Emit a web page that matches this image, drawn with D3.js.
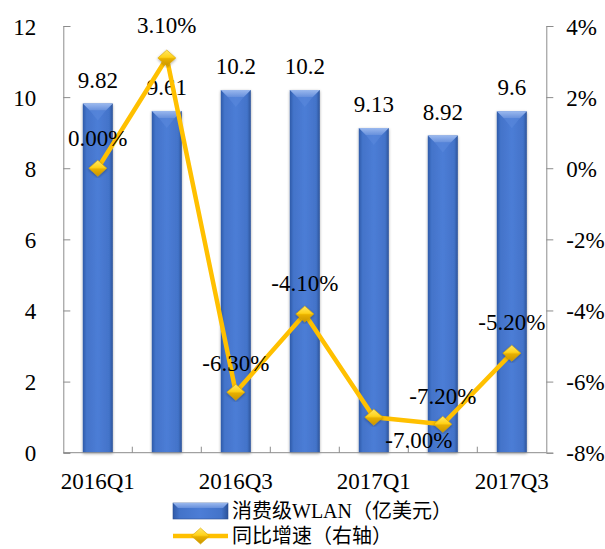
<!DOCTYPE html>
<html>
<head>
<meta charset="utf-8">
<script src="https://cdn.jsdelivr.net/npm/d3@7/dist/d3.min.js"></script>
<style>
  html, body { margin: 0; padding: 0; background: #fff; }
  svg { display: block; }
</style>
</head>
<body>
<svg id="chart" width="605" height="549"></svg>
<script>
// Quarterly consumer WLAN revenue (100M USD) and YoY growth (%)
const categories = ["2016Q1", "2016Q2", "2016Q3", "2016Q4", "2017Q1", "2017Q2", "2017Q3"];
const revenue = [9.82, 9.61, 10.2, 10.2, 9.13, 8.92, 9.6];
const growth = [0.00, 3.10, -6.30, -4.10, -7.00, -7.20, -5.20];
const leftTicks = [0, 2, 4, 6, 8, 10, 12];
const rightTicks = [-8, -6, -4, -2, 0, 2, 4];
const shownCategoryLabels = ["2016Q1", "2016Q3", "2017Q1", "2017Q3"];
const legendLabels = ["消费级WLAN（亿美元）", "同比增速（右轴）"];

// label nudges for the growth labels, relative to each marker
const growthLabelOffsets = [[0, -30], [0, -33], [0, -29], [0, -31], [45, 23], [0, -28], [0, -31]];

const FONT = "'Liberation Serif', 'Times New Roman', 'Noto Sans CJK SC', serif";
const svg = d3.select("#chart").style("font-family", FONT);
const plot = { left: 63.3, right: 546.3, top: 26, bottom: 452.7 };
const axisColor = "#8c8c8c";
const fontSize = 23;

const x = d3.scaleBand()
  .domain(categories)
  .range([plot.left, plot.right])
  .paddingInner(0.565)
  .paddingOuter(0.2825);
const step = x.step();

const yL = d3.scaleLinear().domain([0, 12]).range([plot.bottom, plot.top]);
const yR = d3.scaleLinear().domain([-8, 4]).range([plot.bottom, plot.top]);

// gradients
const defs = svg.append("defs");
const barGrad = defs.append("linearGradient").attr("id", "barGrad")
  .attr("x1", "0%").attr("x2", "100%").attr("y1", "0%").attr("y2", "0%");
[["0%", "#2f5aa8"], ["12%", "#4373c9"], ["50%", "#4c7dd6"], ["88%", "#4373c9"], ["100%", "#2b5299"]]
  .forEach(([o, c]) => barGrad.append("stop").attr("offset", o).attr("stop-color", c));

const bevelGrad = defs.append("linearGradient").attr("id", "bevelGrad")
  .attr("x1", "0%").attr("x2", "0%").attr("y1", "0%").attr("y2", "100%");
[["0%", "#9ab8ee"], ["100%", "#6790dc"]]
  .forEach(([o, c]) => bevelGrad.append("stop").attr("offset", o).attr("stop-color", c));

const diaGrad = defs.append("linearGradient").attr("id", "diaGrad")
  .attr("x1", "0%").attr("x2", "0%").attr("y1", "0%").attr("y2", "100%");
[["0%", "#ffe866"], ["45%", "#ffd21a"], ["55%", "#e8b000"], ["100%", "#c99400"]]
  .forEach(([o, c]) => diaGrad.append("stop").attr("offset", o).attr("stop-color", c));

const shadow = defs.append("filter").attr("id", "shadow")
  .attr("x", "-30%").attr("y", "-10%").attr("width", "160%").attr("height", "120%");
shadow.append("feGaussianBlur").attr("in", "SourceAlpha").attr("stdDeviation", 1.5).attr("result", "b");
shadow.append("feOffset").attr("in", "b").attr("dx", 0).attr("dy", 1).attr("result", "o");
shadow.append("feComponentTransfer").attr("in", "o").attr("result", "s")
  .append("feFuncA").attr("type", "linear").attr("slope", 0.35);
const merge = shadow.append("feMerge");
merge.append("feMergeNode").attr("in", "s");
merge.append("feMergeNode").attr("in", "SourceGraphic");

// bars
const barW = x.bandwidth();
const bars = svg.append("g").selectAll("g.bar").data(revenue).join("g").attr("class", "bar");
bars.append("rect")
  .attr("x", (d, i) => x(categories[i]))
  .attr("y", d => yL(d))
  .attr("width", barW)
  .attr("height", d => yL(0) - yL(d))
  .attr("fill", "url(#barGrad)")
  .attr("filter", "url(#shadow)");
// top bevel
const bev = 7;
bars.append("path")
  .attr("d", (d, i) => {
    const x0 = x(categories[i]), x1 = x0 + barW, y0 = yL(d);
    return `M${x0},${y0}L${x1},${y0}L${x1 - bev},${y0 + bev}L${x0 + bev},${y0 + bev}Z`;
  })
  .attr("fill", "url(#bevelGrad)");
bars.append("path")
  .attr("d", (d, i) => {
    const x0 = x(categories[i]), x1 = x0 + barW, y0 = yL(d);
    return `M${x0 + bev},${y0 + bev}L${x1 - bev},${y0 + bev}L${(x0 + x1) / 2},${y0 + bev + 10}Z`;
  })
  .attr("fill", "#5a88dc").attr("opacity", 0.6);

// bar value labels
svg.append("g").selectAll("text").data(revenue).join("text")
  .attr("x", (d, i) => x(categories[i]) + barW / 2)
  .attr("y", d => yL(d) - 24)
  .attr("dy", "0.35em")
  .attr("text-anchor", "middle")
  .attr("font-size", fontSize)
  .style("font-family", FONT)
  .text(d => String(d));

function styleAxis(g) {
  g.attr("font-family", FONT);
  g.select(".domain").attr("stroke", axisColor);
  g.selectAll(".tick line").attr("stroke", axisColor);
  g.selectAll(".tick text").attr("font-size", fontSize).style("font-family", FONT).attr("fill", "#000");
}

// left axis (inside ticks)
const axL = svg.append("g").attr("transform", `translate(${plot.left},0)`)
  .call(d3.axisLeft(yL).tickValues(leftTicks).tickSize(-7).tickPadding(27).tickFormat(d => String(d)));
styleAxis(axL);
axL.selectAll(".tick text").attr("dy", "0.35em");

// right axis
const axR = svg.append("g").attr("transform", `translate(${plot.right},0)`)
  .call(d3.axisRight(yR).tickValues(rightTicks).tickSize(7).tickPadding(13).tickFormat(d => d + "%"));
styleAxis(axR);
axR.selectAll(".tick text").attr("dy", "0.35em");

// bottom axis: category boundaries get the tick marks, every other label shown
const axB = svg.append("g").attr("transform", `translate(0,${plot.bottom})`)
  .call(d3.axisBottom(x).tickSize(0).tickPadding(20).tickFormat(d => shownCategoryLabels.includes(d) ? d : ""));
styleAxis(axB);
axB.select(".domain").attr("d", `M${plot.left},0H${plot.right}`);
axB.append("g").selectAll("line").data(categories.slice(1)).join("line")
  .attr("x1", d => x(d) - (step - barW) / 2)
  .attr("x2", d => x(d) - (step - barW) / 2)
  .attr("y1", 0).attr("y2", -6)
  .attr("stroke", axisColor);

// growth line
const cx = i => x(categories[i]) + barW / 2;
const line = d3.line().x((d, i) => cx(i)).y(d => yR(d));
svg.append("path")
  .datum(growth)
  .attr("d", line)
  .attr("fill", "none")
  .attr("stroke", "#ffc000")
  .attr("stroke-width", 4.5)
  .attr("stroke-linejoin", "round");

const diamond = (cxv, cyv, w, h) =>
  `M${cxv},${cyv - h / 2}L${cxv + w / 2},${cyv}L${cxv},${cyv + h / 2}L${cxv - w / 2},${cyv}Z`;
svg.append("g").selectAll("path").data(growth).join("path")
  .attr("d", (d, i) => diamond(cx(i), yR(d), 18, 16))
  .attr("fill", "url(#diaGrad)")
  .attr("stroke", "#d9a400").attr("stroke-width", 0.6)
  .attr("filter", "url(#shadow)");

// growth labels
svg.append("g").selectAll("text").data(growth).join("text")
  .attr("x", (d, i) => cx(i) + growthLabelOffsets[i][0])
  .attr("y", (d, i) => yR(d) + growthLabelOffsets[i][1])
  .attr("dy", "0.35em")
  .attr("text-anchor", "middle")
  .attr("font-size", fontSize)
  .style("font-family", FONT)
  .text(d => d.toFixed(2) + "%");

// legend
const lg = svg.append("g");
const lx = 173, lw = 55;
lg.append("rect").attr("x", lx).attr("y", 503).attr("width", lw).attr("height", 16)
  .attr("fill", "url(#barGrad)").attr("stroke", "#2d4f8f").attr("stroke-width", 0.6);
lg.append("path")
  .attr("d", `M${lx},503L${lx + lw},503L${lx + lw - 5},508L${lx + 5},508Z`)
  .attr("fill", "url(#bevelGrad)");
lg.append("line").attr("x1", lx).attr("x2", lx + lw).attr("y1", 536).attr("y2", 536)
  .attr("stroke", "#ffc000").attr("stroke-width", 4.5);
lg.append("path").attr("d", diamond(lx + lw / 2, 536, 18, 16))
  .attr("fill", "url(#diaGrad)").attr("stroke", "#d9a400").attr("stroke-width", 0.6);
lg.selectAll("text").data(legendLabels).join("text")
  .attr("x", 232)
  .attr("y", (d, i) => 511 + i * 25)
  .attr("dy", "0.36em")
  .attr("font-size", 20)
  .style("font-family", FONT)
  .text(d => d);
</script>
</body>
</html>
